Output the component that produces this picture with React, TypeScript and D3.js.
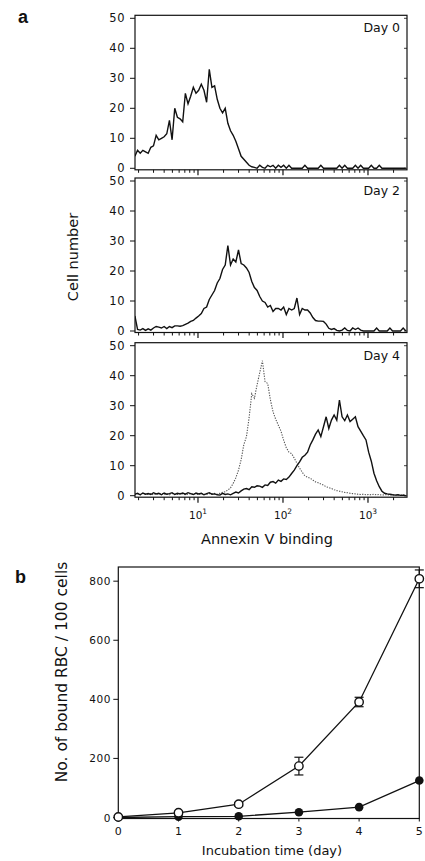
import React from 'react';
import * as d3 from 'd3';

// ---------- Data (panel a: flow-cytometry histograms) ----------
const PANEL_DAYS = ['Day 0', 'Day 2', 'Day 4'];
const CHANNEL_START = 66;      // first displayed channel
const CHANNEL_STEP = 8;        // channels per stored bin
const CHANNELS_PER_DECADE = 256;

const DAY0_COUNTS = [
  4, 6, 5, 6, 5.5, 5, 7, 7.5, 11, 9.5,
  10, 10.5, 11.5, 16, 9.5, 20, 17, 16.5, 15.5, 25,
  21.5, 24, 27, 25, 26, 28, 26, 22, 33, 27,
  27.5, 23, 20, 18.5, 20, 15, 12.5, 11, 9, 6.5,
  4, 3, 2, 1, 0.5,
  0.3, 0, 1, 0.3, 0, 1, 0.5, 1, 0, 1,
  0.3, 1, 0, 1, 0, 0, 0, 0, 0, 1,
  0, 0, 0, 0, 0, 1, 0, 0, 0, 0,
  0, 0, 1, 0, 1, 0, 0, 0, 1, 0,
  1, 0, 0, 0, 1, 0, 0, 1, 0, 0,
  0, 0, 0, 0, 0, 0, 0, 0,
];
const DAY2_COUNTS = [
  5, 0.5, 0.3, 0.8, 0.2, 0.7, 0.3, 1, 1.5, 1.3,
  1.0, 1.5, 0.8, 1.5, 1.1, 1.7, 1.7, 1.6, 1.8, 2.2,
  2.6, 3.2, 3.5, 4.3, 5.0, 5.8, 7.5, 8.0, 10.5, 12,
  13.5, 16, 17.5, 20.5, 22, 28.5, 22, 24, 23, 27,
  22.5, 22, 21, 19.5, 16.5, 14.5, 13.5, 11.5, 10, 9.5,
  8, 8.5, 6.5, 7.5, 7.5, 7, 8, 5.5, 7.5, 7,
  7.5, 11, 5.5, 7.5, 7, 7, 6, 4.5, 3.5, 3.3,
  3.3, 3.2, 2.3, 0.9, 0.5,
  0.8, 0.2, 0, 0.3, 1, 0.2, 0, 1, 0.5, 1,
  0.3, 0, 0, 0, 0, 0, 1, 0, 0, 0,
  0, 1, 0, 0, 0, 0, 1, 0,
];
const DAY4_COUNTS = [
  0.5, 0.8, 0.3, 0.9, 0.5, 0.7, 0.4, 1, 0.6, 0.8,
  0.3, 0.9, 0.5, 0.7, 1, 0.4, 0.8, 0.6, 0.9, 0.5,
  1, 0.7, 0.4, 0.9, 0.6, 0.8, 0.3, 0.7, 1, 0.5,
  0.6, 0.3, 0.2, 0.8, 0.4, 0.6, 0.3, 0.8, 1.2, 0.9,
  1.6, 2.2, 2.4, 2.0, 3.0, 2.8, 3.3, 3.2, 2.8, 3.6,
  3.4, 4.5, 4.7, 4.2, 5.2, 4.8, 5.6, 5.4, 6.2, 7.4,
  8.5, 10, 11.3, 12.8, 13.5, 14.5, 16.9, 18.6, 20.5, 21.9,
  19.7, 23, 26.3, 22.4, 25.2, 26.9, 25.2, 31.9, 26.3, 25,
  26.9, 24.7, 25.5, 26.3, 23, 21.5, 20, 18.6, 14.5, 11.5,
  7.5, 5, 3, 1.5, 0.8, 0.6, 0.5, 0.3, 0.2, 0.3,
  0.1, 0.2, 0,
];
const DAY4_CONTROL_COUNTS = [
  0.4, 0.6, 0.3, 0.8, 0.5, 0.4, 0.7, 0.3, 0.6, 0.5,
  0.8, 0.4, 0.6, 0.3, 0.7, 0.5, 0.4, 0.8, 0.6, 0.3,
  0.5, 0.7, 0.4, 0.6, 0.3, 0.8, 0.5, 0.4, 0.7, 0.6,
  0.8, 0.5, 0.8, 1.1, 1.3, 1.9, 2.6, 4.1, 6.0, 8.5,
  12, 17, 19.7, 26, 34, 32.5, 37, 41, 45, 38,
  37.4, 32, 28, 25.5, 23.5, 21.5, 18.5, 16, 14.5, 14,
  12.5, 10.8, 9.2, 7.8, 6.6, 6.2, 5.8, 5.2, 4.6, 4.3,
  3.9, 3.5, 3.0, 2.7, 2.4, 2.0, 1.7, 1.5, 1.3, 1.1,
  1.0, 0.8, 0.7, 0.6, 0.5, 0.4, 0.5, 0.3, 0.4, 0.3,
  0.5, 0.3, 0.4, 0.2, 0.3, 0.4, 0.2, 0.3, 0.2, 0.3,
  0.2, 0.3, 0.2,
];
const CELL_TICKS = [0, 10, 20, 30, 40, 50];
const DECADE_TICKS = [10, 100, 1000];
const DECADE_EXPONENTS = ['1', '2', '3'];

// ---------- Data (panel b) ----------
const DAYS_B = [0, 1, 2, 3, 4, 5];
const OPEN_VALUES = [2, 16, 45, 174, 391, 808];
const OPEN_ERRORS = [3, 4, 6, 30, 16, 30];
const FILLED_VALUES = [0, 3, 4, 18, 35, 125];
const RBC_TICKS = [0, 200, 400, 600, 800];

// ---------- Layout ----------
const FONT = "'DejaVu Sans', Verdana, sans-serif";
const A_LEFT = 135;
const A_RIGHT = 407;
const PANEL_BASES = [168.3, 331, 495.7];
const PANEL_H = 150;

const channelValue = (i: number) =>
  Math.pow(10, (CHANNEL_START + i * CHANNEL_STEP) / CHANNELS_PER_DECADE);

const xA = d3.scaleLog().domain([Math.pow(10, 0.259), Math.pow(10, 3.459)]).range([A_LEFT, A_RIGHT]);

const B_LEFT = 118.3, B_RIGHT = 419.3, B_TOP = 567, B_BOTTOM = 817.5;
const xB = d3.scaleLinear().domain([0, 5]).range([B_LEFT, B_RIGHT]);
const yB = d3.scaleLinear().domain([0, 848]).range([B_BOTTOM, B_TOP]);

function Histogram({ base, counts, dotted, clipId }: { base: number; counts: number[]; dotted?: boolean; clipId: string }) {
  const y = d3.scaleLinear().domain([0, 50]).range([base, base - PANEL_H]);
  const line = d3.line<number>()
    .x((_, i) => xA(channelValue(i)))
    .y((d) => y(d))
    .curve(d3.curveLinear);
  return (
    <path
      d={line(counts) || ''}
      fill="none"
      stroke={dotted ? '#555' : '#111'}
      strokeWidth={dotted ? 1.1 : 1.4}
      strokeLinejoin="miter"
      strokeDasharray={dotted ? '1.3,1.3' : undefined}
      clipPath={`url(#${clipId})`}
    />
  );
}

function PanelA({ idx, showXLabels }: { idx: number; showXLabels: boolean }) {
  const base = PANEL_BASES[idx];
  const y = d3.scaleLinear().domain([0, 50]).range([base, base - PANEL_H]);
  const top = y(50) - 3;
  const bottom = y(0) + 1.5;
  const minorTicks = xA.ticks().filter((t) => !DECADE_TICKS.includes(t));
  const clipId = `clipA${idx}`;
  const series = idx === 0 ? [DAY0_COUNTS] : idx === 1 ? [DAY2_COUNTS] : [DAY4_COUNTS];
  return (
    <g>
      <defs>
        <clipPath id={clipId}>
          <rect x={A_LEFT} y={top} width={A_RIGHT - A_LEFT} height={bottom - top} />
        </clipPath>
      </defs>
      {idx === 2 && <Histogram base={base} counts={DAY4_CONTROL_COUNTS} dotted clipId={clipId} />}
      {series.map((c, k) => (
        <Histogram key={k} base={base} counts={c} clipId={clipId} />
      ))}
      <rect x={A_LEFT} y={top} width={A_RIGHT - A_LEFT} height={bottom - top} fill="none" stroke="#111" strokeWidth={1.2} />
      {CELL_TICKS.map((t) => (
        <g key={t}>
          <line x1={A_LEFT - 5} x2={A_LEFT} y1={y(t)} y2={y(t)} stroke="#111" strokeWidth={1} />
          <line x1={A_RIGHT - 3} x2={A_RIGHT} y1={y(t)} y2={y(t)} stroke="#111" strokeWidth={0.8} />
          <text x={125} y={y(t) + 4} textAnchor="end" fontSize={11.5} letterSpacing={0.5} fontFamily={FONT} fill="#111">
            {t}
          </text>
        </g>
      ))}
      {minorTicks.map((t, k) => (
        <line key={k} x1={xA(t)} x2={xA(t)} y1={bottom} y2={bottom + 3} stroke="#111" strokeWidth={1} />
      ))}
      {DECADE_TICKS.map((t) => (
        <line key={t} x1={xA(t)} x2={xA(t)} y1={bottom} y2={bottom + 5.5} stroke="#111" strokeWidth={1.2} />
      ))}
      <text x={400} y={y(50) + 14} textAnchor="end" fontSize={12.5} fontFamily={FONT} fill="#111">
        {PANEL_DAYS[idx]}
      </text>
      {showXLabels &&
        DECADE_TICKS.map((t, k) => (
          <text key={t} x={xA(t) - 9} y={519} fontSize={10.5} fontFamily={FONT} fill="#111">
            10
            <tspan dy={-5} fontSize={7.5}>{DECADE_EXPONENTS[k]}</tspan>
          </text>
        ))}
    </g>
  );
}

function PanelB() {
  const line = d3.line<number>().x((_, i) => xB(DAYS_B[i])).y((d) => yB(d));
  return (
    <g>
      <rect x={B_LEFT} y={B_TOP} width={B_RIGHT - B_LEFT} height={B_BOTTOM - B_TOP + 1} fill="none" stroke="#111" strokeWidth={1.2} />
      {RBC_TICKS.map((t) => (
        <g key={t}>
          <line x1={B_LEFT - 5} x2={B_LEFT} y1={yB(t)} y2={yB(t)} stroke="#111" strokeWidth={1} />
          <text x={111} y={yB(t) + 4} textAnchor="end" fontSize={10.5} letterSpacing={0.6} fontFamily={FONT} fill="#111">
            {t}
          </text>
        </g>
      ))}
      {DAYS_B.map((d) => (
        <g key={d}>
          <line x1={xB(d)} x2={xB(d)} y1={B_BOTTOM + 1} y2={B_BOTTOM + 4} stroke="#111" strokeWidth={1} />
          <text x={xB(d)} y={835} textAnchor="middle" fontSize={11} fontFamily={FONT} fill="#111">
            {d}
          </text>
        </g>
      ))}
      <path d={line(FILLED_VALUES) || ''} fill="none" stroke="#111" strokeWidth={1.3} />
      <path d={line(OPEN_VALUES) || ''} fill="none" stroke="#111" strokeWidth={1.3} />
      {OPEN_VALUES.map((v, i) => {
        const e = OPEN_ERRORS[i];
        const x = xB(DAYS_B[i]);
        return (
          <g key={i}>
            <line x1={x} x2={x} y1={yB(v - e)} y2={yB(v + e)} stroke="#111" strokeWidth={1.2} />
            <line x1={x - 4.5} x2={x + 4.5} y1={yB(v + e)} y2={yB(v + e)} stroke="#111" strokeWidth={1.2} />
            <line x1={x - 4.5} x2={x + 4.5} y1={yB(v - e)} y2={yB(v - e)} stroke="#111" strokeWidth={1.2} />
          </g>
        );
      })}
      {FILLED_VALUES.map((v, i) => (
        <circle key={i} cx={xB(DAYS_B[i])} cy={yB(v)} r={4.3} fill="#111" />
      ))}
      {OPEN_VALUES.map((v, i) => (
        <circle key={i} cx={xB(DAYS_B[i])} cy={yB(v)} r={4.2} fill="#fff" stroke="#111" strokeWidth={1.4} />
      ))}
      <text transform="translate(66.5,672) rotate(-90)" textAnchor="middle" fontSize={15.5} fontFamily={FONT} fill="#111">
        No. of bound RBC / 100 cells
      </text>
      <text x={272} y={855} textAnchor="middle" fontSize={13} fontFamily={FONT} fill="#111">
        Incubation time (day)
      </text>
    </g>
  );
}

export default function App() {
  return (
    <svg
      width={425}
      height={861}
      viewBox="0 0 425 861"
      style={{ position: 'absolute', left: 0, top: 0, background: '#fff' }}
    >
      <rect x={0} y={0} width={425} height={861} fill="#fff" />
      <text x={18} y={23} fontSize={18} fontWeight="bold" fontFamily="'Liberation Sans', Arial, sans-serif" fill="#111">a</text>
      <text x={15} y={583} fontSize={18} fontWeight="bold" fontFamily="'Liberation Sans', Arial, sans-serif" fill="#111">b</text>
      {PANEL_DAYS.map((_, i) => (
        <PanelA key={i} idx={i} showXLabels={i === 2} />
      ))}
      <text transform="translate(78,257) rotate(-90)" textAnchor="middle" fontSize={14.5} fontFamily={FONT} fill="#111">
        Cell number
      </text>
      <text x={267} y={544} textAnchor="middle" fontSize={14.5} fontFamily={FONT} fill="#111">
        Annexin V binding
      </text>
      <PanelB />
    </svg>
  );
}
